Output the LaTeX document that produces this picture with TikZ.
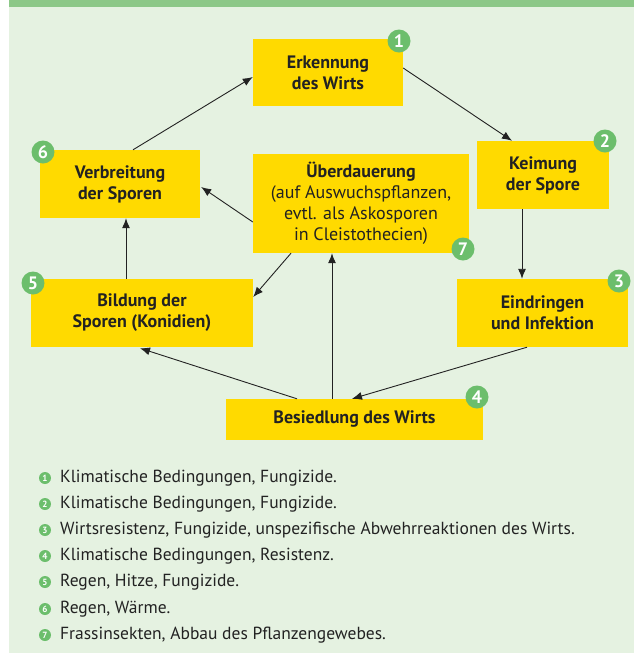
\documentclass[tikz,border=0pt]{standalone}
\usepackage{fontspec}
\setmainfont{PT Sans}
\usetikzlibrary{arrows.meta,calc}
\definecolor{panel}{HTML}{E5F2E1}
\definecolor{header}{HTML}{8CC887}
\definecolor{boxy}{HTML}{FFDA00}
\definecolor{badge}{HTML}{6CBE6C}
\definecolor{ink}{HTML}{222222}
\tikzset{
  box/.style={fill=boxy, draw=none, inner sep=0pt, align=center, text=ink,
    font=\fontsize{18}{21}\selectfont\bfseries},
  badgenode/.style={circle, fill=badge, inner sep=0pt, minimum size=23pt, text=white,
    font=\fontsize{18}{18}\selectfont\bfseries},
  bullet/.style={circle, fill=badge, inner sep=0pt, minimum size=12pt, text=white,
    font=\fontsize{9}{9}\selectfont\bfseries},
  legtext/.style={anchor=west, inner sep=0pt, text=ink, font=\fontsize{17.5}{20}\selectfont},
  arr/.style={draw=ink, line width=0.9pt, -{Latex[length=10pt,width=8pt]}}
}
\begin{document}
\begin{tikzpicture}[x=1pt,y=-1pt]
\useasboundingbox (0,0) rectangle (634,657);
\fill[panel] (9,0) rectangle (634,653);
\fill[header] (9,0) rectangle (634,7);

\node[box, minimum width=150pt, minimum height=67pt] (b1) at (328,72.5) {Erkennung\\des Wirts};
\node[box, minimum width=132pt, minimum height=68pt] (b2) at (543,175) {Keimung\\der Spore};
\node[box, minimum width=160pt, minimum height=68pt] (b6) at (120,184) {Verbreitung\\der Sporen};
\node[box, minimum width=216pt, minimum height=99pt] (b7) at (361,203.5) {Überdauerung\\\mdseries(auf Auswuchspflanzen,\\\mdseries evtl. als Askosporen\\\mdseries in Cleistothecien)};
\node[box, minimum width=222pt, minimum height=68pt] (b5) at (142,313) {Bildung der\\Sporen (Konidien)};
\node[box, minimum width=171pt, minimum height=68pt] (b3) at (542.5,313) {Eindringen\\und Infektion};
\node[box, minimum width=257pt, minimum height=41pt] (b4) at (354.5,419.5) {Besiedlung des Wirts};

\node[badgenode] (n1) at (399,41) {1};
\node[badgenode] (n2) at (605,141) {2};
\node[badgenode] (n3) at (619,281) {3};
\node[badgenode] (n4) at (477,397) {4};
\node[badgenode] (n5) at (33,283) {5};
\node[badgenode] (n6) at (43,152) {6};
\node[badgenode] (n7) at (463,249) {7};

\draw[arr] ($(b6.north)+(13,0)$) -- ($(b1.west)+(0,4.5)$);
\draw[arr] ($(b1.east)+(0,-4.5)$) -- ($(b2.north)+(-31,0)$);
\coordinate (c2) at ($(b2.south)+(-21,0)$);
\draw[arr] (c2) -- (c2 |- b3.north);
\draw[arr] ($(b3.south)+(-15.5,0)$) -- ($(b4.north)+(-2.5,0)$);
\draw[arr] ($(b4.north)+(-57.5,0)$) -- ($(b5.south)+(-2,1)$);
\coordinate (c4) at ($(b4.north)+(-22.5,0)$);
\draw[arr] (c4) -- (c4 |- b7.south);
\coordinate (c5) at ($(b5.north)+(-16,0)$);
\draw[arr] (c5) -- (c5 |- b6.south);
\draw[arr] ($(b7.west)+(0,18.5)$) -- ($(b6.east)+(1,3)$);
\draw[arr] ($(b7.south)+(-70,0)$) -- ($(b5.east)+(0,-16)$);

\foreach \i/\y/\t in {1/478/{Klimatische Bedingungen, Fungizide.},
  2/504/{Klimatische Bedingungen, Fungizide.},
  3/530/{Wirtsresistenz, Fungizide, unspezifische Abwehrreaktionen des Wirts.},
  4/556/{Klimatische Bedingungen, Resistenz.},
  5/582/{Regen, Hitze, Fungizide.},
  6/609/{Regen, Wärme.},
  7/635/{Frassinsekten, Abbau des Pflanzengewebes.}}{
  \node[bullet] (l\i) at (45,\y) {\i};
  \node[legtext] (t\i) at (60,\y) {\t};
}
\end{tikzpicture}
\end{document}
